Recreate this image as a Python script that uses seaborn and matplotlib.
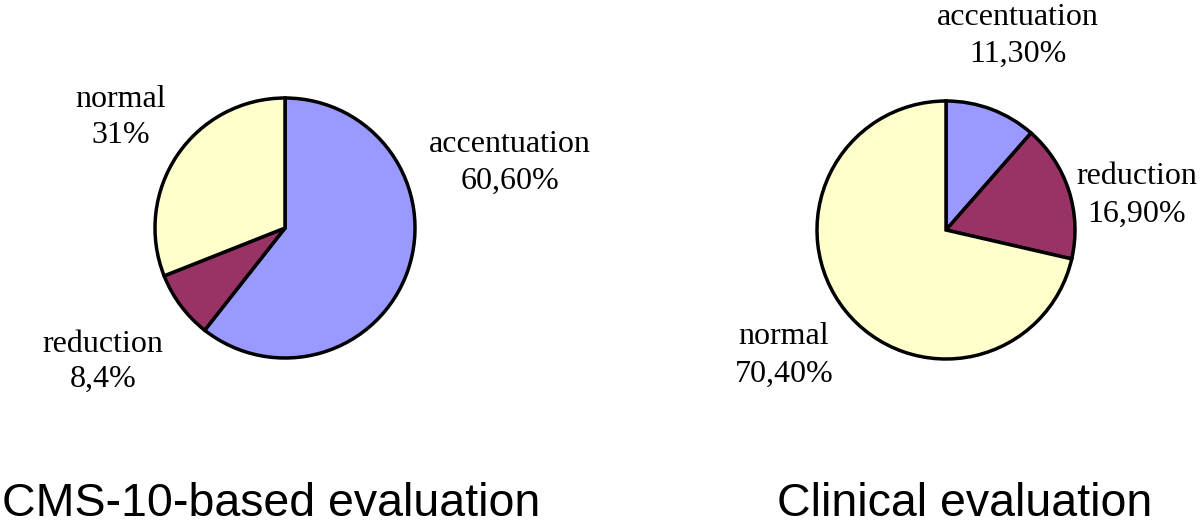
import matplotlib
matplotlib.use("Agg")
import matplotlib.pyplot as plt
import seaborn as sns

sns.set_theme(style="white")
plt.rcParams['font.family'] = ['Liberation Serif', 'DejaVu Serif']

# data
categories = ["accentuation", "reduction", "normal"]
cms_values = [60.6, 8.4, 31.0]
cms_pct = ["60,60%", "8,4%", "31%"]
clin_values = [11.3, 16.9, 70.4]
clin_pct = ["11,30%", "16,90%", "70,40%"]
titles = ["CMS-10-based evaluation", "Clinical evaluation"]
colors = ["#9999FF", "#993366", "#FFFFCC"]

W, H = 1200, 526
fig = plt.figure(figsize=(W / 100, H / 100), dpi=100)
fig.patch.set_facecolor("white")

PAD = 1.04


def pie_axes(cx, cy, r):
    # axes placed in pixel coords of the figure
    rr = r * PAD
    return fig.add_axes([(cx - rr) / W, 1 - (cy + rr) / H, 2 * rr / W, 2 * rr / H])


def draw_pie(ax, values):
    ax.pie(values, colors=colors, startangle=90, counterclock=False,
           wedgeprops=dict(edgecolor="black", linewidth=2.5))
    ax.set_xlim(-PAD, PAD)
    ax.set_ylim(-PAD, PAD)
    ax.axis("off")


ax1 = pie_axes(285, 228, 130)
draw_pie(ax1, cms_values)
ax2 = pie_axes(946, 230, 129)
draw_pie(ax2, clin_values)

# label positions (pixels): centre x, baseline of first line, baseline of second line
fs = 23
lab_pos1 = [(510, 152, 189), (103, 352, 387), (121, 107, 143)]
lab_pos2 = [(1018, 25, 62), (1137, 184, 222), (784, 344, 382)]


def put_label(name, pct, pos):
    x, y1, y2 = pos
    fig.text(x / W, 1 - y1 / H, name, ha="center", va="baseline", fontsize=fs, color="black")
    fig.text(x / W, 1 - y2 / H, pct, ha="center", va="baseline", fontsize=fs, color="black")


for name, pct, pos in zip(categories, cms_pct, lab_pos1):
    put_label(name, pct, pos)
for name, pct, pos in zip(categories, clin_pct, lab_pos2):
    put_label(name, pct, pos)

# titles at bottom
sans = ["Liberation Sans", "DejaVu Sans"]
fig.text(2 / W, 1 - 516 / H, titles[0], ha="left", va="baseline", fontsize=33.5,
         family=sans, color="black")
fig.text(777 / W, 1 - 516 / H, titles[1], ha="left", va="baseline", fontsize=33.5,
         family=sans, color="black")

fig.savefig("out.png", dpi=100, facecolor="white")
